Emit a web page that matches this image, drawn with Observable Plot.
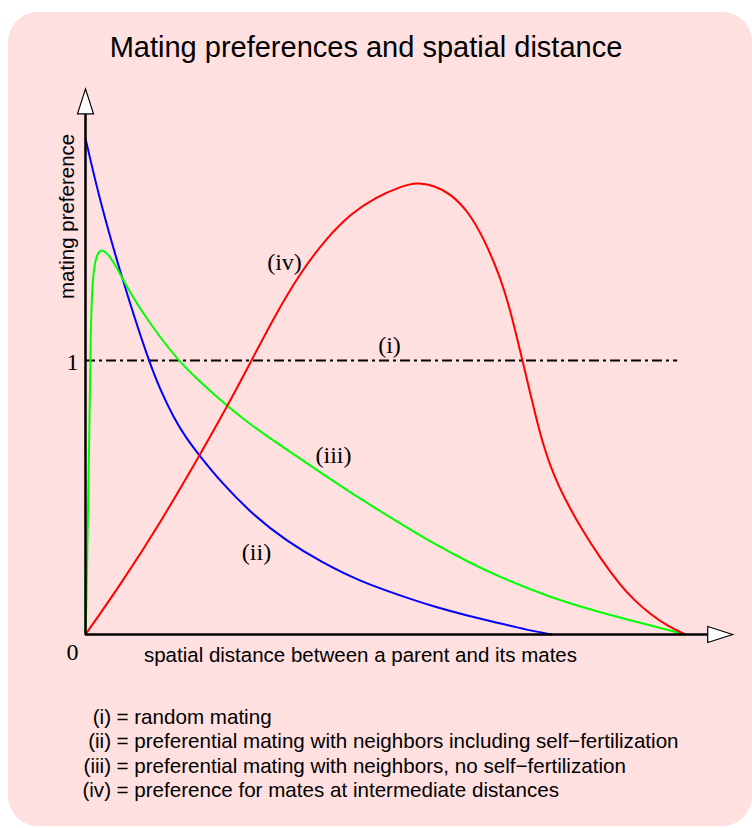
<!DOCTYPE html>
<html><head><meta charset="utf-8">
<script src="https://cdn.jsdelivr.net/npm/d3@7"></script>
<script src="https://cdn.jsdelivr.net/npm/@observablehq/plot@0.6"></script>
<style>
body{margin:0;background:#fff;width:752px;height:828px;position:relative;overflow:hidden;font-family:"Liberation Sans",Arial,sans-serif;color:#000;}
#panel{position:absolute;left:8px;top:12px;width:744px;height:814px;background:#ffe0e0;border-radius:30px;}
#title{position:absolute;left:0;top:30px;width:732px;text-align:center;font-size:29px;line-height:34px;}
#chart{position:absolute;left:0;top:80px;}
#legend{position:absolute;left:0;top:705px;font-size:20.6px;line-height:24.3px;}
.row{display:flex;white-space:pre;}
.lab{width:111px;text-align:right;}
.txt{margin-left:5.5px;}
</style></head><body>
<div id="panel"></div>
<div id="title">Mating preferences and spatial distance</div>
<div id="chart"></div>
<div id="legend"></div>
<script>
// curve (ii): preferential mating with neighbors including self-fertilization
const xII = [0, 0.25, 0.633, 1.05, 1.25, 1.467, 1.683, 1.9, 2.25, 2.8, 3.367, 3.917, 4.583, 5.25, 5.8, 6.367, 6.917, 7.333, 7.767];
const yII = [1.810, 1.573, 1.281, 1.0, 0.891, 0.792, 0.715, 0.653, 0.558, 0.434, 0.339, 0.266, 0.193, 0.142, 0.102, 0.069, 0.040, 0.018, 0];
// curve (iii): preferential mating with neighbors, no self-fertilization
const xIII = [0, 0.017, 0.033, 0.067, 0.083, 0.1, 0.133, 0.183, 0.25, 0.317, 0.383, 0.5, 0.633, 0.833, 1.033, 1.283, 1.567, 1.917, 2.35, 2.75, 3.083, 3.917, 4.7, 5.25, 5.8, 6.367, 6.917, 7.75, 8.583, 9.417, 10];
const yIII = [0, 0.124, 0.343, 0.781, 1.036, 1.219, 1.328, 1.383, 1.405, 1.398, 1.387, 1.347, 1.292, 1.215, 1.150, 1.073, 0.996, 0.920, 0.836, 0.766, 0.715, 0.591, 0.478, 0.405, 0.332, 0.266, 0.208, 0.135, 0.080, 0.033, 0];
// curve (iv): preference for mates at intermediate distances
const xIV = [0, 0.583, 1.25, 1.9, 2.35, 2.767, 3.167, 3.583, 4.0, 4.417, 4.833, 5.25, 5.533, 5.8, 6.083, 6.367, 6.633, 6.917, 7.083, 7.283, 7.417, 7.533, 7.633, 7.75, 7.883, 8.033, 8.25, 8.583, 8.917, 9.133, 9.417, 9.717, 10];
const yIV = [0, 0.182, 0.409, 0.653, 0.828, 1.0, 1.168, 1.321, 1.442, 1.536, 1.595, 1.635, 1.650, 1.639, 1.609, 1.547, 1.449, 1.303, 1.182, 1.0, 0.876, 0.770, 0.690, 0.613, 0.544, 0.478, 0.391, 0.277, 0.179, 0.128, 0.073, 0.029, 0];
// curve (i): random mating
const randomLevel = 1;
const randomEnd = 9.87;
// axis extents
const xAxisEnd = 10.37;
const yAxisEnd = 1.90;
// tick labels
const tickZero = "0";
const tickOne = "1";
// curve labels
const curveLabels = ["(i)", "(ii)", "(iii)", "(iv)"];
const curveLabelX = [5.067, 2.85, 4.133, 3.317];
const curveLabelY = [1.055, 0.299, 0.653, 1.358];
// axis titles
const xTitle = "spatial distance between a parent and its mates";
const yTitle = "mating preference";
// legend
const legendKeys = ["(i)", "(ii)", "(iii)", "(iv)"];
const legendTexts = ["= random mating", "= preferential mating with neighbors including self\u2212fertilization", "= preferential mating with neighbors, no self\u2212fertilization", "= preference for mates at intermediate distances"];

const toRows = (xs, ys) => xs.map((x, i) => ({x, y: ys[i]}));
const upHead = {draw(c){c.moveTo(0,-25);c.lineTo(8,0);c.lineTo(-8,0);c.closePath();}};
const rightHead = {draw(c){c.moveTo(25,0);c.lineTo(0,-8);c.lineTo(0,8);c.closePath();}};
const serif = "'Liberation Serif','Times New Roman',serif";
const sans = "'Liberation Sans',Arial,sans-serif";

const chart = Plot.plot({
  width: 752, height: 600, margin: 0,
  x: {domain: [0, 10], range: [85, 685], axis: null},
  y: {domain: [0, 1], range: [554, 280], axis: null},
  style: {background: "transparent", overflow: "visible"},
  marks: [
    Plot.ruleY([randomLevel], {x1: 0, x2: randomEnd, stroke: "black", strokeWidth: 2, strokeDasharray: "10,4,3,4"}),
    Plot.line(toRows(xII, yII), {x: "x", y: "y", stroke: "#0000ff", strokeWidth: 2, curve: "basis"}),
    Plot.line(toRows(xIII, yIII), {x: "x", y: "y", stroke: "#00ff00", strokeWidth: 2, curve: "basis"}),
    Plot.line(toRows(xIV, yIV), {x: "x", y: "y", stroke: "#ff0000", strokeWidth: 2, curve: "basis"}),
    Plot.ruleY([0], {x1: 0, x2: xAxisEnd, stroke: "black", strokeWidth: 2.5}),
    Plot.ruleX([0], {y1: 0, y2: yAxisEnd, stroke: "black", strokeWidth: 2.5}),
    Plot.dot([{x: 0, y: yAxisEnd}], {x: "x", y: "y", symbol: upHead, fill: "white", stroke: "black", strokeWidth: 1.2}),
    Plot.dot([{x: xAxisEnd, y: 0}], {x: "x", y: "y", symbol: rightHead, fill: "white", stroke: "black", strokeWidth: 1.2}),
    Plot.text([tickZero], {x: 0, y: 0, text: d => d, dx: -13, dy: 18, fontFamily: serif, fontSize: 24, fill: "black"}),
    Plot.text([tickOne], {x: 0, y: 1, text: d => d, dx: -13, dy: 2, fontFamily: serif, fontSize: 24, fill: "black"}),
    Plot.text(curveLabels, {x: (d, i) => curveLabelX[i], y: (d, i) => curveLabelY[i], text: d => d, fontFamily: serif, fontSize: 24, fill: "black"}),
    Plot.text([xTitle], {x: 4.583, y: 0, text: d => d, dy: 21, fontFamily: sans, fontSize: 20.5, fill: "black"}),
    Plot.text([yTitle], {x: 0, y: 1.526, text: d => d, dx: -18, rotate: -90, fontFamily: sans, fontSize: 20.5, fill: "black"})
  ]
});
document.getElementById("chart").appendChild(chart);

const leg = document.getElementById("legend");
legendKeys.forEach((k, i) => {
  const row = document.createElement("div");
  row.className = "row";
  const a = document.createElement("span"); a.className = "lab"; a.textContent = k;
  const b = document.createElement("span"); b.className = "txt"; b.textContent = legendTexts[i];
  row.appendChild(a); row.appendChild(b);
  leg.appendChild(row);
});
</script>
</body></html>
